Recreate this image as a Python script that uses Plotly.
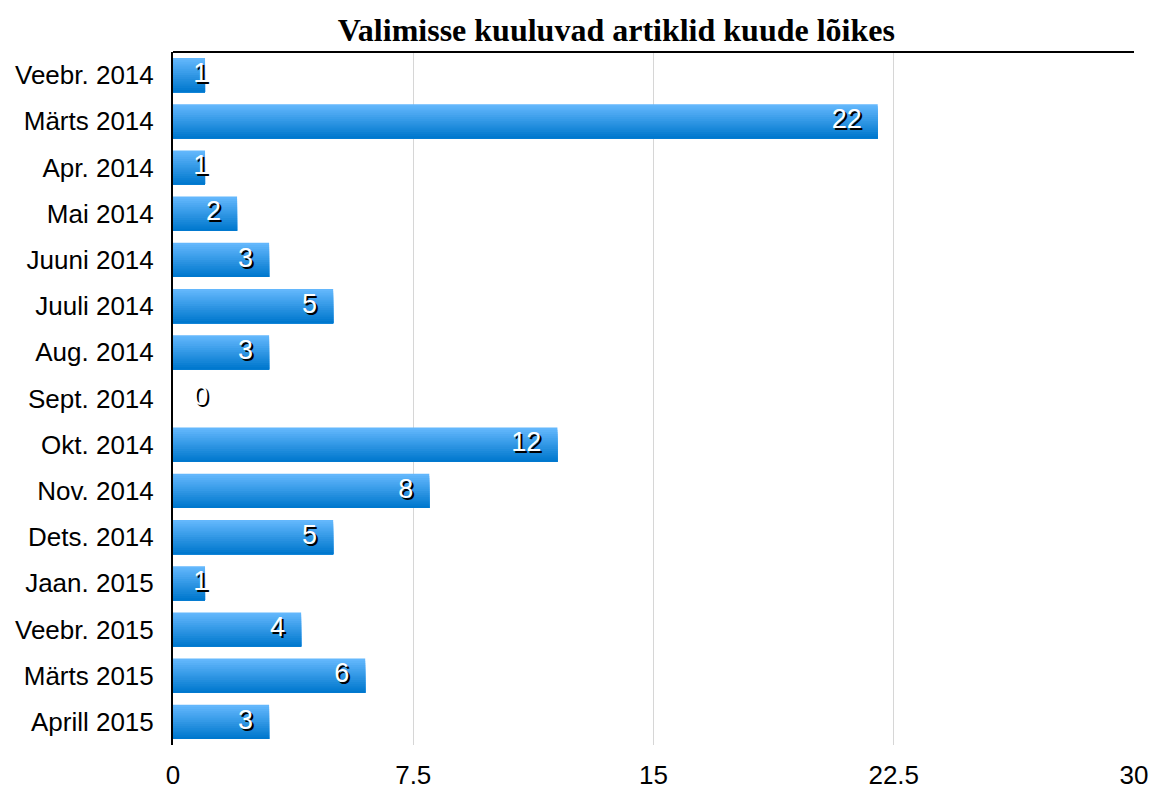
import plotly.graph_objects as go

categories = ["Veebr. 2014", "Märts 2014", "Apr. 2014", "Mai 2014", "Juuni 2014",
              "Juuli 2014", "Aug. 2014", "Sept. 2014", "Okt. 2014", "Nov. 2014",
              "Dets. 2014", "Jaan. 2015", "Veebr. 2015", "Märts 2015", "Aprill 2015"]
values = [1, 22, 1, 2, 3, 5, 3, 0, 12, 8, 5, 1, 4, 6, 3]
x_ticks = [0, 7.5, 15, 22.5, 30]
x_tick_labels = ["0", "7.5", "15", "22.5", "30"]
title = "Valimisse kuuluvad artiklid kuude lõikes"

top_color = (99, 183, 252)
bottom_color = (0, 120, 206)
n_strips = 16
bar_width = 0.74

fig = go.Figure()
strip_w = bar_width / n_strips
for i in range(n_strips):
    t = i / (n_strips - 1)
    c = tuple(round(top_color[k] + (bottom_color[k] - top_color[k]) * t) for k in range(3))
    fig.add_trace(go.Bar(
        x=values, y=categories, orientation="h",
        width=bar_width - i * strip_w, offset=-bar_width / 2 + i * strip_w,
        marker=dict(color="rgb(%d,%d,%d)" % c, line=dict(width=0)),
        hoverinfo="skip", showlegend=False,
    ))

label_x = [max(v - 0.5, 1.1) for v in values]
fig.add_trace(go.Scatter(
    x=label_x, y=categories, mode="text", text=[str(v) for v in values],
    textposition="middle left",
    textfont=dict(family="Liberation Sans, Arial, sans-serif", size=27, color="white",
                  shadow="2px 2px 0px black"),
    showlegend=False, hoverinfo="skip",
))

fig.update_layout(
    width=1152, height=791,
    barmode="overlay",
    plot_bgcolor="white", paper_bgcolor="white",
    margin=dict(l=173, r=18, t=52, b=46),
    title=dict(text="<b>" + title + "</b>", x=0.535, xanchor="center", y=0.962, yanchor="middle",
               font=dict(family="Liberation Serif, Times New Roman, serif", size=32, color="black")),
    font=dict(family="Liberation Sans, Arial, sans-serif", size=26, color="black"),
    xaxis=dict(range=[0, 30], tickvals=x_ticks, ticktext=x_tick_labels, automargin=False,
               showgrid=True, gridcolor="#d6d6d6", gridwidth=1, zeroline=False,
               showline=False, ticks="", ticklabelstandoff=12,
               tickfont=dict(size=26)),
    yaxis=dict(categoryorder="array", categoryarray=categories,
               range=[len(categories) - 0.5, -0.5], autorange=False,
               automargin=False,
               showline=True, linecolor="black", linewidth=2, ticks="",
               ticklabelstandoff=12, showgrid=False, tickfont=dict(size=26)),
    shapes=[dict(type="line", xref="paper", yref="paper", x0=0, x1=1, y0=1, y1=1,
                 line=dict(color="black", width=2))],
)

fig.write_html("out.html", config={"displayModeBar": False})

with open("out.html", encoding="utf-8") as f:
    html = f.read()
html = html.replace("<body>", '<body style="margin:0;padding:0;">', 1)
with open("out.html", "w", encoding="utf-8") as f:
    f.write(html)
